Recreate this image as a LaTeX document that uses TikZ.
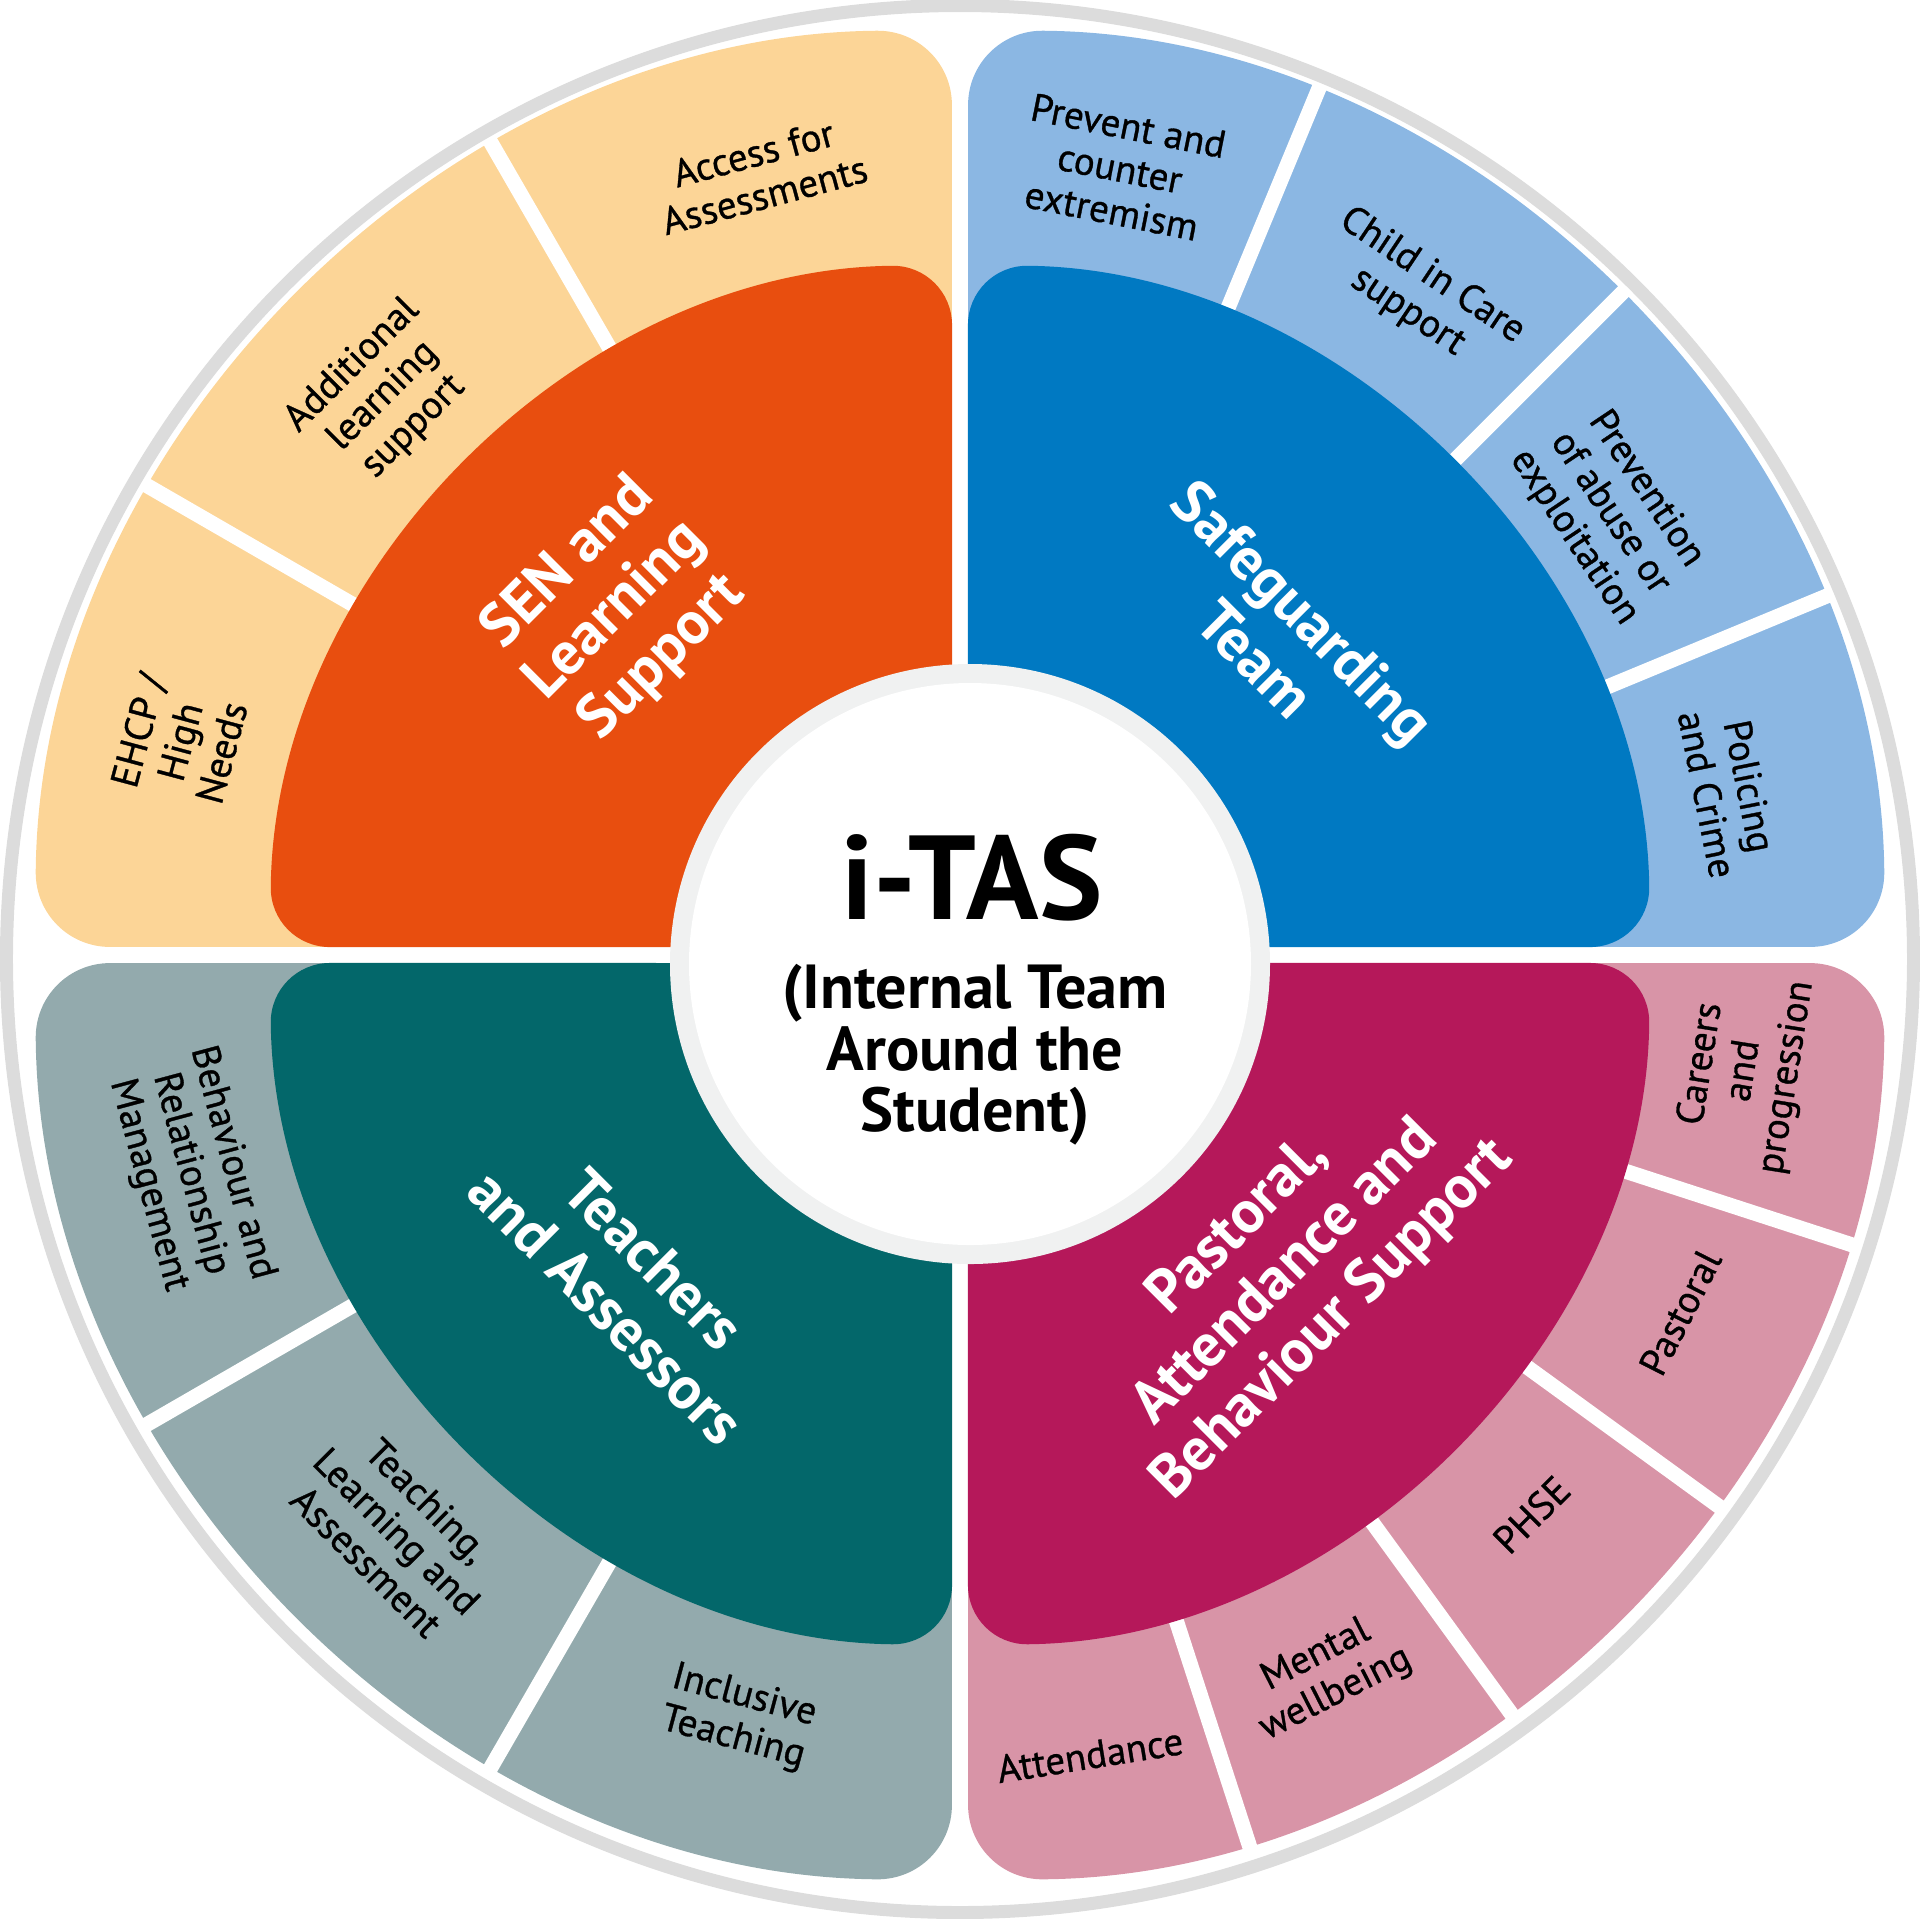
\documentclass[tikz,border=0pt]{standalone}
\usepackage{fontspec}
\setmainfont{PT Sans}
\newfontfamily\mediumfont[FakeBold=0.8]{PT Sans}
\usepackage{tikz}
\definecolor{senlight}{HTML}{FCD597}
\definecolor{sendark}{HTML}{E84E0F}
\definecolor{safelight}{HTML}{8BB7E3}
\definecolor{safedark}{HTML}{0079C2}
\definecolor{teachlight}{HTML}{93AAAD}
\definecolor{teachdark}{HTML}{03676A}
\definecolor{pastlight}{HTML}{D894A7}
\definecolor{pastdark}{HTML}{B5185A}
\definecolor{ringgray}{HTML}{DCDCDC}
\definecolor{hubgray}{HTML}{F0F1F1}

\begin{document}
\begin{tikzpicture}[line cap=round,line join=round,
  outer part/.style={rounded corners=0.75cm},
  inner part/.style={rounded corners=0.6cm},
  divider/.style={white, line width=0.15cm, line cap=butt},
  light label/.style={font=\mediumfont\fontsize{11.1}{12.3}\selectfont, align=center, text=black, inner sep=0pt},
  dark label/.style={font=\bfseries\fontsize{17.2}{19}\selectfont, align=center, text=white, inner sep=0pt}]
\useasboundingbox (-9.6,-9.63) rectangle (9.6,9.55);
% outer ring
\draw [ringgray, line width=0.13cm] (0,-0.04) circle (9.535);
% outer quadrants
\fill [senlight, outer part] (-0.08,0.08) -- (90.5:9.25) arc (90.5:179.5:9.25) -- cycle;
\fill [safelight, outer part] (0.08,0.08) -- (0.5:9.25) arc (0.5:89.5:9.25) -- cycle;
\fill [teachlight, outer part] (-0.08,-0.08) -- (180.5:9.25) arc (180.5:269.5:9.25) -- cycle;
\fill [pastlight, outer part] (0.08,-0.08) -- (270.5:9.25) arc (270.5:359.5:9.25) -- cycle;
% dividers
\foreach \a in {120,150,22.5,45,67.5,210,240,288,306,324,342}
  \draw [divider] (\a:3) -- (\a:9.4);
% inner quadrants
\fill [sendark, inner part] (-0.08,0.08) -- (90.66:6.9) arc (90.66:179.34:6.9) -- cycle;
\fill [safedark, inner part] (0.08,0.08) -- (0.66:6.9) arc (0.66:89.34:6.9) -- cycle;
\fill [teachdark, inner part] (-0.08,-0.08) -- (180.66:6.9) arc (180.66:269.34:6.9) -- cycle;
\fill [pastdark, inner part] (0.08,-0.08) -- (270.66:6.9) arc (270.66:359.34:6.9) -- cycle;
% hub
\fill [hubgray] (0.10,-0.09) circle (3.0);
\fill [white] (0.10,-0.09) circle (2.81);
\node [font=\bfseries\fontsize{34}{34}\selectfont, anchor=base, inner sep=0pt] (itas) at (0.12,0.354) {i-TAS};
\node [font=\bfseries\fontsize{17.7}{17.5}\selectfont, align=center, inner sep=0pt] (sub) at (0.15,-1.0) {(Internal Team\\Around the\\Student)};
% team labels
\node [dark label, rotate=45] (sen) at (135:4.87) {SEN and\\Learning\\Support};
\node [dark label, rotate=-45] (safe) at (45:4.52) {Safeguarding\\Team};
\node [dark label, rotate=-45] (teach) at (-3.30,-3.28) {Teachers\\and Assessors};
\node [dark label, rotate=45] (past) at (3.26,-3.18) {Pastoral,\\Attendance and\\Behaviour Support};
% service labels
\node [light label, rotate=75] (ehcp) at (164.7:8.09) {EHCP /\\High\\Needs};
\node [light label, rotate=45] (addl) at (-5.77,5.59) {Additional\\learning\\support};
\node [light label, rotate=15] (access) at (-2.01,7.81) {Access for\\Assessments};
\node [light label, rotate=-11.25] (prevent) at (78.5:8.03) {Prevent and\\counter\\extremism};
\node [light label, rotate=-33.75] (child) at (4.60,6.61) {Child in Care\\support};
\node [light label, rotate=-56.25] (abuse) at (34.2:7.86) {Prevention\\of abuse or\\exploitation};
\node [light label, rotate=-78.75] (police) at (12.1:7.86) {Policing\\and Crime};
\node [light label, rotate=81] (careers) at (351.6:7.93) {Careers\\and\\progression};
\node [light label, rotate=63] (pastoral) at (333.6:8.04) {Pastoral};
\node [light label, rotate=45] (phse) at (315.6:8.0) {PHSE};
\node [light label, rotate=27] (mental) at (3.66,-7.20) {Mental\\wellbeing};
\node [light label, rotate=9] (attend) at (1.30,-8.0) {Attendance};
\node [light label, rotate=-15] (inclusive) at (253.8:7.94) {Inclusive\\Teaching};
\node [light label, rotate=-45] (tla) at (-5.63,-5.76) {Teaching,\\Learning and\\Assessment};
\node [light label, rotate=-75] (behav) at (-7.70,-2.19) {Behaviour and\\Relationship\\Management};
\end{tikzpicture}
\end{document}
